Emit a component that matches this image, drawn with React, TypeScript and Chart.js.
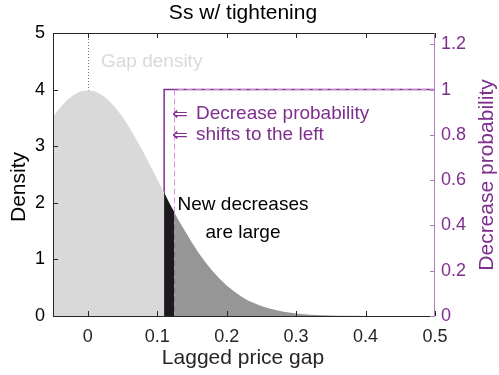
import React, { useEffect, useRef } from "react";
import { Chart, registerables } from "chart.js";
Chart.register(...registerables);

const gapX = [-0.05, -0.04, -0.03, -0.02, -0.01, 0, 0.01, 0.02, 0.03, 0.04, 0.05, 0.06, 0.07, 0.08, 0.09, 0.1, 0.11, 0.115, 0.12, 0.125, 0.13, 0.14, 0.15, 0.16, 0.17, 0.18, 0.19, 0.2, 0.21, 0.22, 0.23, 0.24, 0.25, 0.26, 0.28, 0.3, 0.32, 0.34, 0.36, 0.38, 0.4, 0.45, 0.5];
const gapDensity = [3.52, 3.68, 3.81, 3.91, 3.97, 3.99, 3.97, 3.91, 3.81, 3.68, 3.52, 3.33, 3.12, 2.9, 2.66, 2.42, 2.18, 2.06, 1.94, 1.83, 1.71, 1.5, 1.3, 1.11, 0.94, 0.79, 0.66, 0.54, 0.44, 0.355, 0.28, 0.224, 0.175, 0.136, 0.079, 0.044, 0.024, 0.012, 0.006, 0.003, 0.001, 0.0, 0.0];
const newThreshold = 0.11;
const oldThreshold = 0.125;
const probX = [-0.05, 0.11, 0.11, 0.5];
const probNew = [0, 0, 1, 1];
const probOldX = [-0.05, 0.125, 0.125, 0.5];
const probOld = [0, 0, 1, 1];
const xTicks = [0, 0.1, 0.2, 0.3, 0.4, 0.5];
const yTicks = [0, 1, 2, 3, 4, 5];
const y2Ticks = [0, 0.2, 0.4, 0.6, 0.8, 1, 1.2];

const PURPLE = "#7e2f8e";
const PURPLE_LIGHT = "#b27fc0";
const PURPLE_DASH = "#d98ee0";
const DARK = "#262626";
const FONT = "'Liberation Sans', Arial, Helvetica, sans-serif";

function region(lo: number, hi: number) {
  const pts: { x: number; y: number }[] = [];
  gapX.forEach((x, i) => {
    if (x >= lo - 1e-9 && x <= hi + 1e-9) pts.push({ x, y: gapDensity[i] });
  });
  return pts;
}

const decorPlugin = {
  id: "decor",
  beforeDatasetsDraw(chart: any) {
    const { ctx, scales } = chart;
    const x = scales.x, y = scales.y;
    ctx.save();
    ctx.strokeStyle = "#777";
    ctx.lineWidth = 1;
    ctx.setLineDash([1, 2]);
    const px = Math.round(x.getPixelForValue(0)) + 0.5;
    ctx.beginPath();
    ctx.moveTo(px, y.getPixelForValue(0));
    ctx.lineTo(px, y.getPixelForValue(5));
    ctx.stroke();
    ctx.restore();
  },
  afterDatasetsDraw(chart: any) {
    const { ctx, scales, chartArea: a } = chart;
    const x = scales.x, y = scales.y, y2 = scales.y2;
    ctx.save();
    ctx.lineWidth = 1;
    ctx.strokeStyle = DARK;
    ctx.beginPath();
    ctx.moveTo(a.right, a.top + 0.5);
    ctx.lineTo(a.left + 0.5, a.top + 0.5);
    ctx.lineTo(a.left + 0.5, a.bottom + 0.5);
    ctx.lineTo(a.right, a.bottom + 0.5);
    ctx.stroke();
    const tl = 5;
    xTicks.forEach((v) => {
      const p = Math.round(x.getPixelForValue(v)) + 0.5;
      ctx.beginPath();
      ctx.moveTo(p, a.bottom);
      ctx.lineTo(p, a.bottom - tl);
      ctx.moveTo(p, a.top);
      ctx.lineTo(p, a.top + tl);
      ctx.stroke();
    });
    yTicks.forEach((v) => {
      const p = Math.round(y.getPixelForValue(v)) + 0.5;
      ctx.beginPath();
      ctx.moveTo(a.left, p);
      ctx.lineTo(a.left + tl, p);
      ctx.stroke();
    });
    ctx.strokeStyle = PURPLE_LIGHT;
    ctx.beginPath();
    ctx.moveTo(a.right - 0.5, a.top);
    ctx.lineTo(a.right - 0.5, a.bottom + 1);
    ctx.stroke();
    y2Ticks.forEach((v) => {
      const p = Math.round(y2.getPixelForValue(v)) + 0.5;
      ctx.beginPath();
      ctx.moveTo(a.right, p);
      ctx.lineTo(a.right - tl, p);
      ctx.stroke();
    });
    // annotations
    ctx.font = `19px ${FONT}`;
    ctx.textBaseline = "middle";
    ctx.textAlign = "left";
    ctx.fillStyle = "#d9d9d9";
    ctx.fillText("Gap density", 101, 62);
    ctx.fillStyle = PURPLE;
    ctx.font = `19px 'DejaVu Sans', ${FONT}`;
    ctx.fillText("\u21d0", 172, 115);
    ctx.fillText("\u21d0", 172, 136);
    ctx.font = `19px ${FONT}`;
    ctx.fillText("Decrease probability", 196, 114);
    ctx.fillText("shifts to the left", 196, 135);
    ctx.fillStyle = "#000";
    ctx.textAlign = "center";
    ctx.fillText("New decreases", 243, 205);
    ctx.fillText("are large", 243, 233);
    // titles
    ctx.fillStyle = "#000";
    ctx.font = `21px ${FONT}`;
    ctx.fillText("Ss w/ tightening", 243, 13);
    ctx.fillStyle = DARK;
    ctx.fillText("Lagged price gap", 243, 358);
    ctx.save();
    ctx.fillStyle = "#000";
    ctx.translate(19, 187);
    ctx.rotate(-Math.PI / 2);
    ctx.fillText("Density", 0, 0);
    ctx.restore();
    ctx.save();
    ctx.fillStyle = PURPLE;
    ctx.translate(487, 175);
    ctx.rotate(-Math.PI / 2);
    ctx.fillText("Decrease probability", 0, 0);
    ctx.restore();
    ctx.restore();
  },
};

export default function App() {
  const ref = useRef<HTMLCanvasElement>(null);
  useEffect(() => {
    if (!ref.current) return;
    const fillDs = (data: any[], color: string) => ({
      data,
      showLine: true,
      fill: "origin",
      backgroundColor: color,
      borderWidth: 0,
      borderColor: color,
      pointRadius: 0,
      tension: 0,
      yAxisID: "y",
    });
    const chart = new Chart(ref.current, {
      type: "scatter",
      data: {
        datasets: [
          fillDs(region(-0.05, newThreshold), "#d9d9d9"),
          fillDs(region(newThreshold, oldThreshold), "#1a1a1a"),
          fillDs(region(oldThreshold, 0.5), "#969696"),
          {
            data: probOldX.map((v, i) => ({ x: v, y: probOld[i] })),
            showLine: true,
            borderColor: PURPLE_DASH,
            borderWidth: 1,
            borderDash: [6, 3],
            pointRadius: 0,
            fill: false,
            yAxisID: "y2",
          } as any,
          {
            data: probX.map((v, i) => ({ x: v, y: probNew[i] })),
            showLine: true,
            borderColor: PURPLE,
            borderWidth: 1.5,
            pointRadius: 0,
            fill: false,
            yAxisID: "y2",
          } as any,
        ],
      },
      options: {
        responsive: false,
        animation: false,
        events: [],
        layout: { padding: { top: 33, left: 0, right: 0, bottom: 0 } },
        plugins: { legend: { display: false }, tooltip: { enabled: false }, title: { display: false } },
        scales: {
          x: {
            type: "linear",
            min: -0.05,
            max: 0.5,
            afterBuildTicks: (s: any) => { s.ticks = xTicks.map((v) => ({ value: v })); },
            afterFit: (s: any) => { s.height = 59; },
            grid: { display: false, drawTicks: false },
            border: { display: false },
            ticks: { color: DARK, font: { size: 18, family: FONT }, padding: 10, maxRotation: 0, callback: (v: any) => String(Math.round(v * 10) / 10) },
          },
          y: {
            type: "linear",
            position: "left",
            min: 0,
            max: 5,
            afterBuildTicks: (s: any) => { s.ticks = yTicks.map((v) => ({ value: v })); },
            afterFit: (s: any) => { s.width = 53; },
            grid: { display: false, drawTicks: false },
            border: { display: false },
            ticks: { color: "#000", font: { size: 18, family: FONT }, padding: 8 },
          },
          y2: {
            type: "linear",
            position: "right",
            min: 0,
            max: 1.25,
            afterBuildTicks: (s: any) => { s.ticks = y2Ticks.map((v) => ({ value: v })); },
            afterFit: (s: any) => { s.width = 64; },
            grid: { display: false, drawTicks: false },
            border: { display: false },
            ticks: { color: PURPLE, font: { size: 18, family: FONT }, padding: 6, callback: (v: any) => String(Math.round(v * 10) / 10) },
          },
        },
      } as any,
      plugins: [decorPlugin],
    });
    return () => chart.destroy();
  }, []);
  return (
    <div style={{ position: "fixed", left: 0, top: 0, width: 499, height: 375, background: "#fff" }}>
      <canvas ref={ref} width={499} height={375} />
    </div>
  );
}
